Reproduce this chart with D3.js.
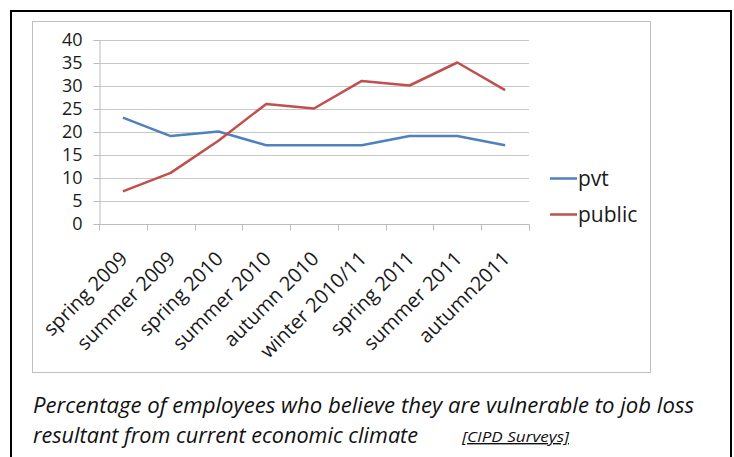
<!DOCTYPE html>
<html>
<head>
<meta charset="utf-8">
<script src="https://cdn.jsdelivr.net/npm/d3@7"></script>
<style>
  body { margin: 0; background: #fff; }
  svg { display: block; }
</style>
</head>
<body>
<div class="chart"></div>
<script>
var svgWidth = 734;
var svgHeight = 457;

// data
var seasons = ["spring 2009", "summer 2009", "spring 2010", "summer 2010", "autumn 2010",
  "winter 2010/11", "spring 2011", "summer 2011", "autumn2011"];
var pvt = [23, 19, 20, 17, 17, 17, 19, 19, 17];
var pub = [7, 11, 18, 26, 25, 31, 30, 35, 29];
var seriesNames = ["pvt", "public"];
var seriesColors = ["#4f81bd", "#c0504d"];
var yTicks = [0, 5, 10, 15, 20, 25, 30, 35, 40];

var plot = { left: 99, right: 529, top: 39.5, bottom: 223.5 };

var svg = d3.select(".chart")
  .append("svg")
  .attr("width", svgWidth)
  .attr("height", svgHeight);

// outer frame (runs off the bottom of the picture)
svg.append("rect")
  .attr("x", 11).attr("y", 11)
  .attr("width", 720).attr("height", 470)
  .attr("fill", "none")
  .attr("stroke", "#000")
  .attr("stroke-width", 2);

// chart area box
svg.append("rect")
  .attr("x", 32.5).attr("y", 21.5)
  .attr("width", 618).attr("height", 351)
  .attr("fill", "#fff")
  .attr("stroke", "#bfbfbf")
  .attr("stroke-width", 1);

// scales
var xScale = d3.scaleBand()
  .domain(seasons)
  .range([plot.left, plot.right]);

var yScale = d3.scaleLinear()
  .domain([0, 40])
  .range([plot.bottom, plot.top]);

// gridlines
svg.append("g")
  .selectAll("line")
  .data(yTicks.filter(d => d > 0))
  .enter()
  .append("line")
  .attr("x1", plot.left).attr("x2", plot.right)
  .attr("y1", d => Math.round(yScale(d)) + 0.5)
  .attr("y2", d => Math.round(yScale(d)) + 0.5)
  .attr("stroke", "#c8c8c8");

// y axis
var yAxis = d3.axisLeft(yScale)
  .tickValues(yTicks)
  .tickSize(6)
  .tickPadding(11);

var yG = svg.append("g")
  .attr("transform", `translate(${plot.left + 0.5}, 0.5)`)
  .call(yAxis);
yG.select(".domain").attr("stroke", "#bcbcbc");
yG.selectAll(".tick line").attr("stroke", "#bcbcbc");
yG.selectAll("text")
  .attr("fill", "#1a1a1a")
  .style("font-family", "'Open Sans', sans-serif")
  .style("font-size", "18px");

// x axis
var xTickScale = d3.scaleLinear().domain([0, seasons.length]).range([plot.left, plot.right]);
var xG = svg.append("g")
  .attr("transform", `translate(0.5, ${Math.round(plot.bottom) + 0.5})`);
xG.append("line")
  .attr("x1", plot.left).attr("x2", plot.right)
  .attr("stroke", "#bcbcbc");
xG.selectAll(".tk")
  .data(d3.range(seasons.length + 1))
  .enter()
  .append("line")
  .attr("x1", d => Math.round(xTickScale(d)))
  .attr("x2", d => Math.round(xTickScale(d)))
  .attr("y1", 0).attr("y2", 6)
  .attr("stroke", "#bcbcbc");

svg.append("g")
  .selectAll("text")
  .data(seasons)
  .enter()
  .append("text")
  .attr("transform", d => `translate(${xScale(d) + xScale.bandwidth() / 2 + 6}, 260) rotate(-45)`)
  .attr("text-anchor", "end")
  .attr("fill", "#1a1a1a")
  .style("font-family", "'Open Sans', sans-serif")
  .style("font-size", "20px")
  .text(d => d);

// lines
var line = d3.line()
  .x((d, i) => xScale(seasons[i]) + xScale.bandwidth() / 2)
  .y(d => yScale(d));

[pvt, pub].forEach(function(vals, i) {
  svg.append("path")
    .attr("d", line(vals))
    .attr("fill", "none")
    .attr("stroke", seriesColors[i])
    .attr("stroke-width", 2.5)
    .attr("stroke-linejoin", "round");
});

// legend
var legend = svg.append("g")
  .selectAll("g")
  .data(seriesNames)
  .enter()
  .append("g")
  .attr("transform", (d, i) => `translate(550, ${178.5 + i * 36})`);

legend.append("line")
  .attr("x1", 0).attr("x2", 27)
  .attr("stroke", (d, i) => seriesColors[i])
  .attr("stroke-width", 2.5);

legend.append("text")
  .attr("x", 28).attr("y", 7)
  .attr("fill", "#1a1a1a")
  .style("font-family", "'Open Sans', sans-serif")
  .style("font-size", "21px")
  .text(d => d);

// caption
var cap = svg.append("g")
  .style("font-family", "'Open Sans', sans-serif")
  .style("font-style", "italic")
  .attr("fill", "#111");

cap.append("text")
  .attr("x", 33).attr("y", 413)
  .style("font-size", "21px")
  .attr("textLength", 661)
  .attr("lengthAdjust", "spacingAndGlyphs")
  .text("Percentage of employees who believe they are vulnerable to job loss");

cap.append("text")
  .attr("x", 33).attr("y", 443)
  .style("font-size", "21px")
  .attr("textLength", 385)
  .attr("lengthAdjust", "spacingAndGlyphs")
  .text("resultant from current economic climate");

cap.append("text")
  .attr("x", 462).attr("y", 442)
  .style("font-size", "14px")
  .style("text-decoration", "underline")
  .attr("textLength", 107)
  .attr("lengthAdjust", "spacingAndGlyphs")
  .text("[CIPD Surveys]");
</script>
</body>
</html>
